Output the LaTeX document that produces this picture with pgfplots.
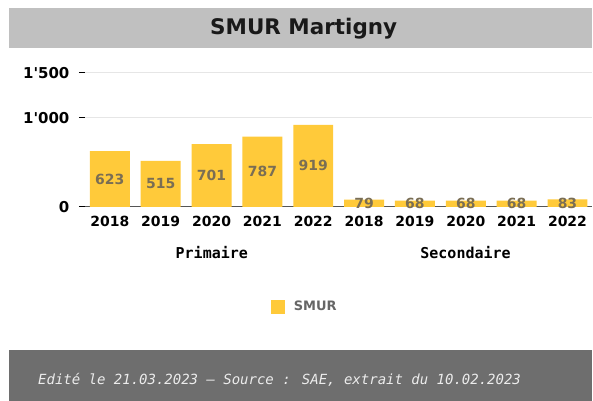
\documentclass[border=0pt]{standalone}
\usepackage{pgfplots}
\pgfplotsset{compat=1.18}
\usepackage{pgfplotstable}
\usepackage{fontspec}
\setmainfont{DejaVu Sans}[Ligatures=TeXOff]
\newfontfamily\monofont{DejaVu Sans Mono}[Ligatures=TeXOff]
\definecolor{barcol}{RGB}{255,202,58}
\definecolor{titlebg}{RGB}{192,192,192}
\definecolor{footbg}{RGB}{110,110,110}
\definecolor{footfg}{RGB}{236,236,236}
\definecolor{lblcol}{RGB}{122,110,84}
\definecolor{gridcol}{RGB}{230,230,230}
\definecolor{zerocol}{RGB}{85,85,85}
\pgfplotstableread{
x y
0 623
1 515
2 701
3 787
4 919
5 79
6 68
7 68
8 68
9 83
}\smurdata
\begin{document}
\begin{tikzpicture}
\path[fill=white] (0bp,0bp) rectangle (593bp,401bp);
\fill[titlebg] (9bp,353bp) rectangle (593bp,392.5bp);
\node[font=\bfseries\fontsize{21.5bp}{24bp}\selectfont, text=black!90] at (304bp,372bp) {SMUR Martigny};
\fill[footbg] (9bp,0bp) rectangle (593bp,51bp);
\node[anchor=west, inner sep=0pt, font=\monofont\itshape\fontsize{14bp}{16bp}\selectfont, text=footfg] at (38bp,21bp) {Edité le 21.03.2023 – Source : SAE, extrait du 10.02.2023};
\begin{axis}[
  at={(85bp,194bp)}, anchor=south west,
  scale only axis,
  width=508bp, height=134bp,
  xmin=-0.49, xmax=9.49,
  ymin=0, ymax=1500,
  axis line style={draw=none},
  /pgf/number format/assume math mode=true,
  xtick={0,...,9},
  xticklabels={2018,2019,2020,2021,2022,2018,2019,2020,2021,2022},
  x tick style={draw=none},
  ytick pos=left,
  ytick={1000,1500},
  yticklabels={1'000,1'500},
  extra y ticks={0},
  extra y tick labels={0},
  extra y tick style={grid style={draw=zerocol, line width=1.2bp}},
  y tick style={draw=black, line width=1bp},
  tick align=outside,
  major tick length=6bp,
  ymajorgrids,
  grid style={draw=gridcol, line width=1bp},
  xticklabel style={font=\bfseries\fontsize{14bp}{16bp}\selectfont, yshift=0bp},
  yticklabel style={font=\bfseries\fontsize{15bp}{17bp}\selectfont, xshift=-6bp},
  legend style={at={(0.36,-0.746)}, anchor=west, draw=none, fill=none,
    font=\bfseries\fontsize{13bp}{15bp}\selectfont, text=black!60,
    legend cell align=left},
  legend image code/.code={\fill[barcol] (0bp,-7bp) rectangle (14bp,7bp);},
  clip=false,
]
\addplot[ybar, bar width=0.786, fill=barcol, draw=none, bar shift=0] table[x=x, y=y] {\smurdata};
\addlegendentry{\hspace{7bp}SMUR}
\addplot[draw=none, mark=none, forget plot,
  nodes near coords, point meta=explicit,
  nodes near coords align=center,
  every node near coord/.append style={font=\bfseries\fontsize{14bp}{16bp}\selectfont, text=lblcol, anchor=center}]
  table[x=x, y expr=\thisrow{y}/2, meta=y] {\smurdata};
\end{axis}
\node[font=\monofont\bfseries\fontsize{15bp}{17bp}\selectfont] at (212bp,148bp) {Primaire};
\node[font=\monofont\bfseries\fontsize{15bp}{17bp}\selectfont] at (466bp,148bp) {Secondaire};
\end{tikzpicture}
\end{document}
